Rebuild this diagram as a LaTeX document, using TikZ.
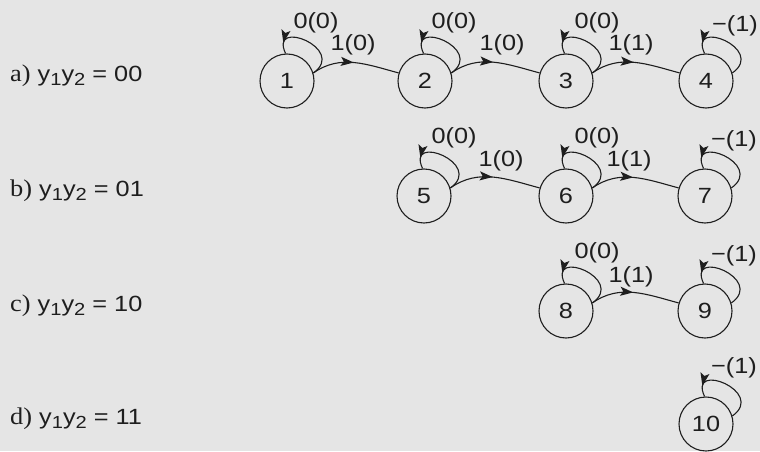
\documentclass[tikz,border=0pt]{standalone}
\usepackage{fontspec}
\setmainfont{Liberation Sans}[FakeStretch=1.15]
\newfontfamily\labserif{Liberation Serif}[FakeStretch=1.1]
\usetikzlibrary{decorations.markings,calc}
\definecolor{paper}{RGB}{229,229,229}
\definecolor{ink}{RGB}{30,30,30}
% lowered index for the y_1 y_2 captions
\newcommand\lowidx[1]{\raisebox{-4.5pt}{\fontsize{17.5}{17.5}\selectfont #1}}
\newcommand\tag[1]{{\labserif\fontsize{24}{24}\selectfont #1)}}
\begin{document}
\begin{tikzpicture}[x=1pt,y=1pt,
  state/.style={circle,draw=ink,line width=1.1pt,minimum size=54pt,inner sep=0pt,
    text=ink,font=\fontsize{22}{22}\selectfont},
  lab/.style={font=\fontsize{22}{22}\selectfont,inner sep=0pt,text=ink},
  % filled barbed head placed along the path, tip at the mark
  tipat/.style={decoration={markings,
      mark=at position #1 with {\fill[ink] (0pt,0pt) -- (-13pt,4.6pt) -- (-10pt,0pt) -- (-13pt,-4.6pt) -- cycle;}},
    postaction=decorate},
  trans/.style={draw=ink,line width=1.1pt,tipat=0.48},
  selfloop/.style={draw=ink,line width=1.1pt,tipat=0.86},
]
% page and background
\fill[paper] (0,0) rectangle (760,451);
\useasboundingbox (0,0) rectangle (760,451);

% row captions
\node[lab,anchor=base west] (ta) at (10,370) {\tag{a} y\lowidx{1}y\lowidx{2} = 00};
\node[lab,anchor=base west] (tb) at (10,255) {\tag{b} y\lowidx{1}y\lowidx{2} = 01};
\node[lab,anchor=base west] (tc) at (10,140) {\tag{c} y\lowidx{1}y\lowidx{2} = 10};
\node[lab,anchor=base west] (td) at (10,27)  {\tag{d} y\lowidx{1}y\lowidx{2} = 11};

% states
\node[state] (n1) at (287,370) {1};
\node[state] (n2) at (425,370) {2};
\node[state] (n3) at (566,370) {3};
\node[state] (n4) at (706,370) {4};
\node[state] (n5) at (424,255) {5};
\node[state] (n6) at (566,255) {6};
\node[state] (n7) at (705,255) {7};
\node[state] (n8) at (566,140) {8};
\node[state] (n9) at (705,140) {9};
\node[state] (n10) at (706,27) {10};

% self loops
\foreach \s in {n1,n2,n3,n4,n5,n6,n7,n8,n9,n10}{
  \draw[selfloop] (\s.17) .. controls +(35:42) and +(115:40) .. (\s.93);
}

% transitions
\draw[trans] (n1.17) to[out=35,in=165] (n2.163);
\draw[trans] (n2.17) to[out=35,in=165] (n3.163);
\draw[trans] (n3.17) to[out=35,in=165] (n4.163);
\draw[trans] (n5.17) to[out=35,in=165] (n6.163);
\draw[trans] (n6.17) to[out=35,in=165] (n7.163);
\draw[trans] (n8.17) to[out=35,in=165] (n9.163);

% loop labels
\node[lab] (l1) at ($(n1)+(29,58)$) {0(0)};
\node[lab] (l2) at ($(n2)+(29,58)$) {0(0)};
\node[lab] (l3) at ($(n3)+(31,58)$) {0(0)};
\node[lab] (l4) at ($(n4)+(29,55)$) {−(1)};
\node[lab] (l5) at ($(n5)+(30,58)$) {0(0)};
\node[lab] (l6) at ($(n6)+(31,58)$) {0(0)};
\node[lab] (l7) at ($(n7)+(29,55)$) {−(1)};
\node[lab] (l8) at ($(n8)+(31,58)$) {0(0)};
\node[lab] (l9) at ($(n9)+(29,55)$) {−(1)};
\node[lab] (l10) at ($(n10)+(28,56)$) {−(1)};

% transition labels
\node[lab] (e12) at (353,406) {1(0)};
\node[lab] (e23) at (502,406) {1(0)};
\node[lab] (e34) at (631,406) {1(1)};
\node[lab] (e56) at (501,290) {1(0)};
\node[lab] (e67) at (629,290) {1(1)};
\node[lab] (e89) at (631,174) {1(1)};
\end{tikzpicture}
\end{document}
